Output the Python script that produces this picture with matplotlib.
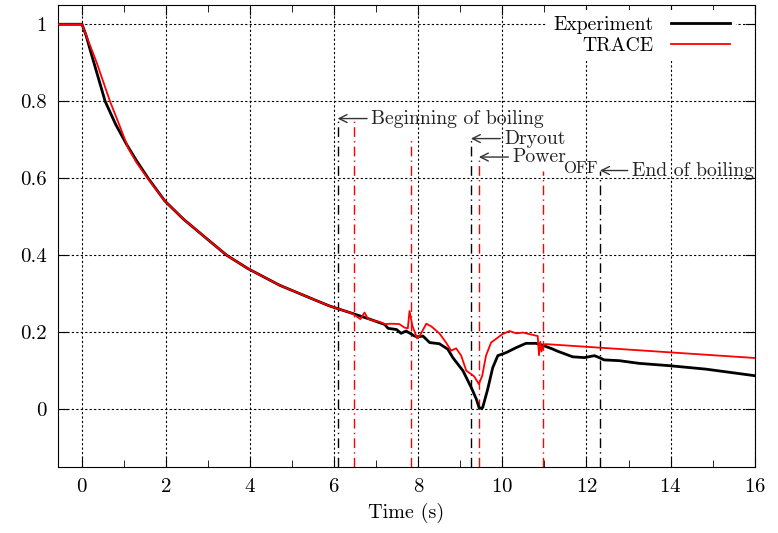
# -*- coding: utf-8 -*-
"""Experiment vs TRACE: normalized signal over time with boiling event markers"""
import numpy as np
import matplotlib; matplotlib.use('Agg')
import matplotlib.pyplot as plt
from matplotlib.ticker import MultipleLocator

plt.rcParams['font.family'] = ['cmr10', 'DejaVu Serif']
plt.rcParams['mathtext.fontset'] = 'cm'
plt.rcParams['axes.unicode_minus'] = False
plt.rcParams['axes.formatter.use_mathtext'] = True

# ---- data ----
exp_t = [-0.6, 0.0, 0.1, 0.19, 0.35, 0.55, 0.8, 1.06, 1.3, 1.58, 1.97, 2.41, 3.0, 3.44, 3.95,
         4.7, 5.49, 5.89, 6.37, 6.84, 7.2, 7.28, 7.48, 7.59, 7.71, 7.91, 7.99, 8.11, 8.27,
         8.5, 8.7, 8.82, 9.06, 9.26, 9.38, 9.45, 9.53, 9.65, 9.77, 9.89, 10.09, 10.33,
         10.56, 10.8, 10.96, 11.2, 11.28, 11.67, 11.95, 12.19, 12.3, 12.42, 12.78, 13.25,
         13.97, 14.84, 16.0]
exp_y = [1.0, 1.0, 0.97, 0.935, 0.875, 0.80, 0.74, 0.688, 0.645, 0.599, 0.541, 0.494, 0.44,
         0.40, 0.365, 0.322, 0.286, 0.268, 0.251, 0.234, 0.22, 0.21, 0.207, 0.197, 0.203,
         0.19, 0.188, 0.19, 0.173, 0.17, 0.156, 0.134, 0.10, 0.056, 0.026, 0.002, 0.004,
         0.052, 0.108, 0.139, 0.147, 0.16, 0.171, 0.171, 0.166, 0.156, 0.152, 0.136, 0.134,
         0.139, 0.134, 0.128, 0.126, 0.119, 0.113, 0.104, 0.087]

trace_t = [-0.6, 0.0, 0.35, 0.665, 0.9, 1.1, 1.3, 1.58, 1.97, 2.41, 3.0, 3.44, 3.95, 4.7,
           5.49, 5.89, 6.37, 6.45, 6.52, 6.62, 6.72, 6.8, 6.96, 7.08, 7.2, 7.36, 7.55, 7.67,
           7.75, 7.79, 7.86, 7.97, 8.04, 8.19, 8.31, 8.5, 8.66, 8.78, 8.9, 9.02, 9.14, 9.26,
           9.33, 9.44, 9.52, 9.61, 9.73, 9.89, 10.0, 10.17, 10.33, 10.49, 10.64, 10.84, 10.87,
           10.9, 10.93, 10.98, 11.04, 16.0]
trace_y = [1.0, 1.0, 0.90, 0.80, 0.735, 0.678, 0.64, 0.597, 0.541, 0.494, 0.44, 0.40, 0.365,
           0.322, 0.286, 0.268, 0.251, 0.247, 0.242, 0.234, 0.251, 0.235, 0.229, 0.227, 0.221,
           0.222, 0.221, 0.212, 0.21, 0.255, 0.216, 0.184, 0.192, 0.222, 0.215, 0.197, 0.173,
           0.152, 0.158, 0.139, 0.10, 0.091, 0.085, 0.065, 0.087, 0.139, 0.173, 0.186, 0.195,
           0.203, 0.197, 0.199, 0.195, 0.19, 0.14, 0.175, 0.15, 0.168, 0.169, 0.133]

exp_ev_t = [6.08, 9.25, 12.32]
exp_ev_top = [0.755, 0.703, 0.62]
trace_ev_t = [6.47, 7.82, 9.44, 10.97]
trace_ev_top = [0.75, 0.70, 0.655, 0.62]

events = ['Beginning of boiling', 'Dryout', 'Power', 'End of boiling']
ev_target = [(6.08, 0.755), (9.25, 0.703), (9.44, 0.655), (12.32, 0.62)]
ev_text = [(6.88, 0.755), (10.05, 0.703), (10.24, 0.655), (13.08, 0.62)]

fig = plt.figure(figsize=(7.78, 5.33), dpi=100)
ax = fig.add_axes([0.0746, 0.124, 0.8954, 0.8666])

dashdot = (0, (7, 3, 1, 3))
ax.vlines(exp_ev_t, -0.15, exp_ev_top, colors='k', linestyles=[dashdot], lw=1.0)
ax.vlines(trace_ev_t, -0.15, trace_ev_top, colors='red', linestyles=[dashdot], lw=1.0)

ax.plot(exp_t, exp_y, color='black', lw=2.0, label='Experiment', zorder=4)
ax.plot(trace_t, trace_y, color='red', lw=1.3, label='TRACE', zorder=5)

notes = {}
for lab, tgt, pos in zip(events, ev_target, ev_text):
    notes[lab] = ax.annotate(lab, xy=tgt, xytext=pos, ha='left', va='center', fontsize=14.2,
                             color='#222222', zorder=6, annotation_clip=False,
                             arrowprops=dict(arrowstyle='->', color='#333333', lw=1.0,
                                             shrinkA=1, shrinkB=0))
# "OFF" subscript after "Power"
ax.annotate('OFF', xy=(1, 0), xycoords=notes['Power'], xytext=(-2, 4),
            textcoords='offset points', ha='left', va='top', fontsize=12, color='#222222')

ax.set_xlim(-0.57, 16)
ax.set_ylim(-0.15, 1.05)
ax.xaxis.set_major_locator(MultipleLocator(2))
ax.xaxis.set_minor_locator(MultipleLocator(1))
ax.set_yticks([0, 0.2, 0.4, 0.6, 0.8, 1])
ax.set_yticklabels(['0', '0.2', '0.4', '0.6', '0.8', '1'])
ax.tick_params(which='both', direction='in', top=True, right=True, labelsize=15, pad=8)
ax.tick_params(which='major', length=7)
ax.tick_params(which='minor', length=5)
ax.grid(True, which='major', color='black', linestyle=(0, (2, 2)), lw=0.8)
ax.set_xlabel('Time (s)', fontsize=14.5, labelpad=5)

leg = ax.legend(loc='upper right', bbox_to_anchor=(0.979, 0.997), markerfirst=False,
                fontsize=14.2, frameon=True, handlelength=3.0, borderaxespad=0.2,
                borderpad=0.3, handletextpad=0.9, labelspacing=0.15)
leg.get_frame().set_edgecolor('none')
leg.get_frame().set_facecolor('white')
leg.get_frame().set_alpha(1)
for t in leg.get_texts():
    t.set_ha('right')

fig.savefig('out.png', dpi=100)
